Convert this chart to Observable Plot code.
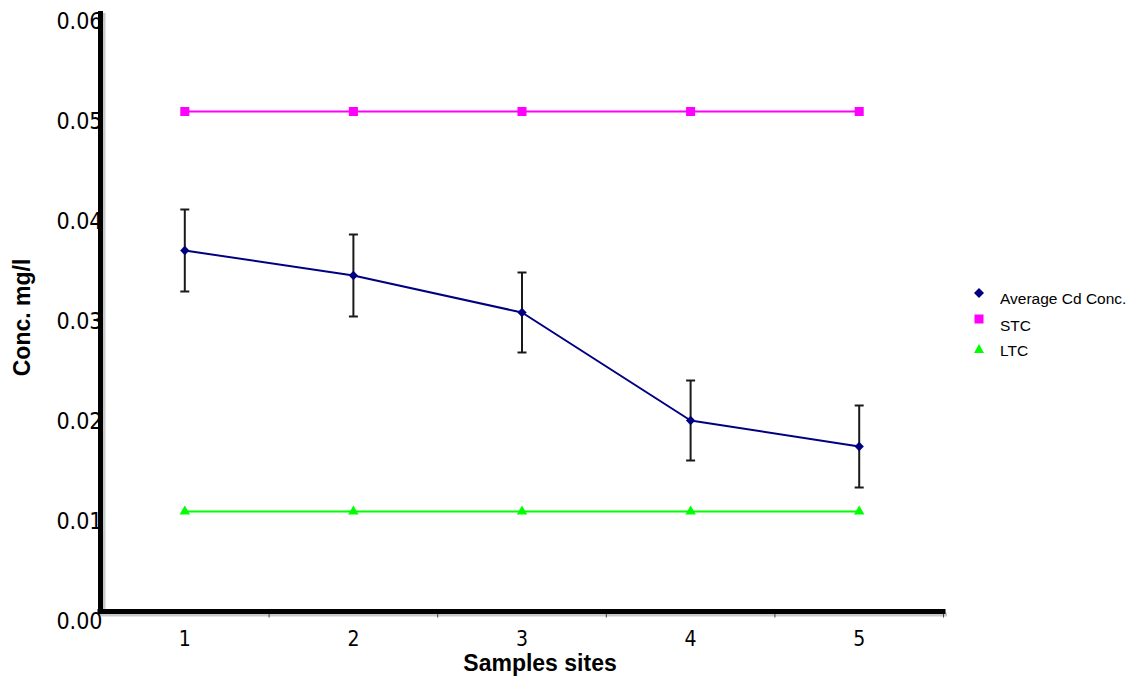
<!DOCTYPE html>
<html>
<head>
<meta charset="utf-8">
<script src="https://cdn.jsdelivr.net/npm/d3@7"></script>
<script src="https://cdn.jsdelivr.net/npm/@observablehq/plot@0.6"></script>
<style>
  html, body { margin: 0; padding: 0; background: #fff; }
  #chart { position: relative; width: 1137px; height: 688px; }
  .legend-row { position: absolute; left: 972px; height: 20px; display: flex; align-items: center;
                font-family: "Liberation Sans", Arial, sans-serif; font-size: 15.5px; color: #000; white-space: nowrap; }
  .legend-row svg { width: 14px; height: 14px; margin-right: 14px; overflow: visible; }
</style>
</head>
<body>
<div id="chart"></div>
<script>
// Cadmium concentration at the sampling sites with the STC / LTC limits
const sites = [1, 2, 3, 4, 5];
const avgCd = [0.0361, 0.0336, 0.0299, 0.0191, 0.0165];
const avgErr = [0.0041, 0.0041, 0.0040, 0.0040, 0.0041];
const stc = [0.05, 0.05, 0.05, 0.05, 0.05];
const ltc = [0.01, 0.01, 0.01, 0.01, 0.01];
const yTicks = [0, 0.01, 0.02, 0.03, 0.04, 0.05, 0.06];
const seriesNames = ["Average Cd Conc.", "STC", "LTC"];
const seriesColors = ["#000080", "#ff00ff", "#00ff00"];

const avgRows = sites.map((s, i) => ({site: s, value: avgCd[i], err: avgErr[i]}));
const stcRows = sites.map((s, i) => ({site: s, value: stc[i]}));
const ltcRows = sites.map((s, i) => ({site: s, value: ltc[i]}));
// boundaries between the category slots, marked by small ticks on the x axis
const slotEdges = sites.slice(1).map(s => s - 0.5).concat([sites[sites.length - 1] + 0.5]);

const capSymbol = {draw(ctx) { ctx.moveTo(-4.5, 0); ctx.lineTo(4.5, 0); }};
const minorTick = {draw(ctx) { ctx.moveTo(0, 2); ctx.lineTo(0, 6); }};

const tickFont = "'DejaVu Sans Condensed', 'DejaVu Sans', Verdana, sans-serif";
const titleFont = "'Liberation Sans', Arial, sans-serif";

const chart = Plot.plot({
  width: 1137,
  height: 688,
  marginLeft: 100,
  marginRight: 194,
  marginTop: 11,
  marginBottom: 77,
  x: {domain: [0.5, 5.5], axis: null},
  y: {domain: [0, 0.06], axis: null},
  style: {fontFamily: tickFont, background: "#fff", overflow: "visible"},
  marks: [
    // limit lines
    Plot.line(stcRows, {x: "site", y: "value", stroke: seriesColors[1], strokeWidth: 2}),
    Plot.dot(stcRows, {x: "site", y: "value", symbol: "square", r: 5.1, fill: seriesColors[1]}),
    Plot.line(ltcRows, {x: "site", y: "value", stroke: seriesColors[2], strokeWidth: 2}),
    Plot.dot(ltcRows, {x: "site", y: "value", symbol: "triangle", r: 3.9, fill: seriesColors[2]}),
    // error bars
    Plot.ruleX(avgRows, {x: "site", y1: d => d.value - d.err, y2: d => d.value + d.err, stroke: "#1a1a1a", strokeWidth: 2}),
    Plot.dot(avgRows, {x: "site", y: d => d.value + d.err, symbol: capSymbol, stroke: "#1a1a1a", strokeWidth: 2}),
    Plot.dot(avgRows, {x: "site", y: d => d.value - d.err, symbol: capSymbol, stroke: "#1a1a1a", strokeWidth: 2}),
    // average concentration
    Plot.line(avgRows, {x: "site", y: "value", stroke: seriesColors[0], strokeWidth: 2}),
    Plot.dot(avgRows, {x: "site", y: "value", symbol: "diamond2", r: 4.2, fill: seriesColors[0]}),
    // tick labels
    Plot.text(yTicks, {y: d => d, frameAnchor: "left", textAnchor: "end", dx: 2, dy: 10, fontSize: 23, text: d3.format(".2f"), fill: "#000"}),
    Plot.text(sites, {x: d => d, frameAnchor: "bottom", dy: 34, fontSize: 21, text: d => String(d), fill: "#000"}),
    // axis lines with their soft shadow
    Plot.ruleY([0], {stroke: "#888", strokeOpacity: 0.45, strokeWidth: 4, dx: 2, dy: 3, strokeLinecap: "square"}),
    Plot.ruleX([0.5], {stroke: "#888", strokeOpacity: 0.45, strokeWidth: 4, dx: 3, dy: 2}),
    Plot.dot(slotEdges, {x: d => d, frameAnchor: "bottom", symbol: minorTick, stroke: "#444", strokeWidth: 1}),
    Plot.ruleX([0.5], {stroke: "#000", strokeWidth: 5}),
    Plot.ruleY([0], {stroke: "#000", strokeWidth: 5, strokeLinecap: "square"}),
    // axis titles
    Plot.text(["Samples sites"], {text: d => d, frameAnchor: "bottom", textAnchor: "middle", dx: 18, dy: 59, fontSize: 23,
      fontWeight: "bold", fontFamily: titleFont, fill: "#000"}),
    Plot.text(["Conc. mg/l"], {text: d => d, frameAnchor: "left", textAnchor: "middle", rotate: -90, dx: -78, dy: 6, fontSize: 23,
      fontWeight: "bold", fontFamily: titleFont, fill: "#000"})
  ]
});

const root = document.getElementById("chart");
root.appendChild(chart);

// legend to the right of the plot
const legendSymbols = [
  '<path d="M7,2 L12,7 L7,12 L2,7 Z" fill="COLOR"/>',
  '<rect x="2.5" y="2.5" width="9" height="9" fill="COLOR"/>',
  '<path d="M7,2 L12,11 L2,11 Z" fill="COLOR"/>'
];
const legendTops = [283, 309, 339];
const textShift = [6, 7, 2];
seriesNames.forEach((name, i) => {
  const row = document.createElement("div");
  row.className = "legend-row";
  row.style.top = legendTops[i] + "px";
  row.innerHTML = '<svg viewBox="0 0 14 14">' + legendSymbols[i].replace("COLOR", seriesColors[i]) + '</svg>' +
    '<span style="position:relative;top:' + textShift[i] + 'px">' + name + '</span>';
  root.appendChild(row);
});
</script>
</body>
</html>
